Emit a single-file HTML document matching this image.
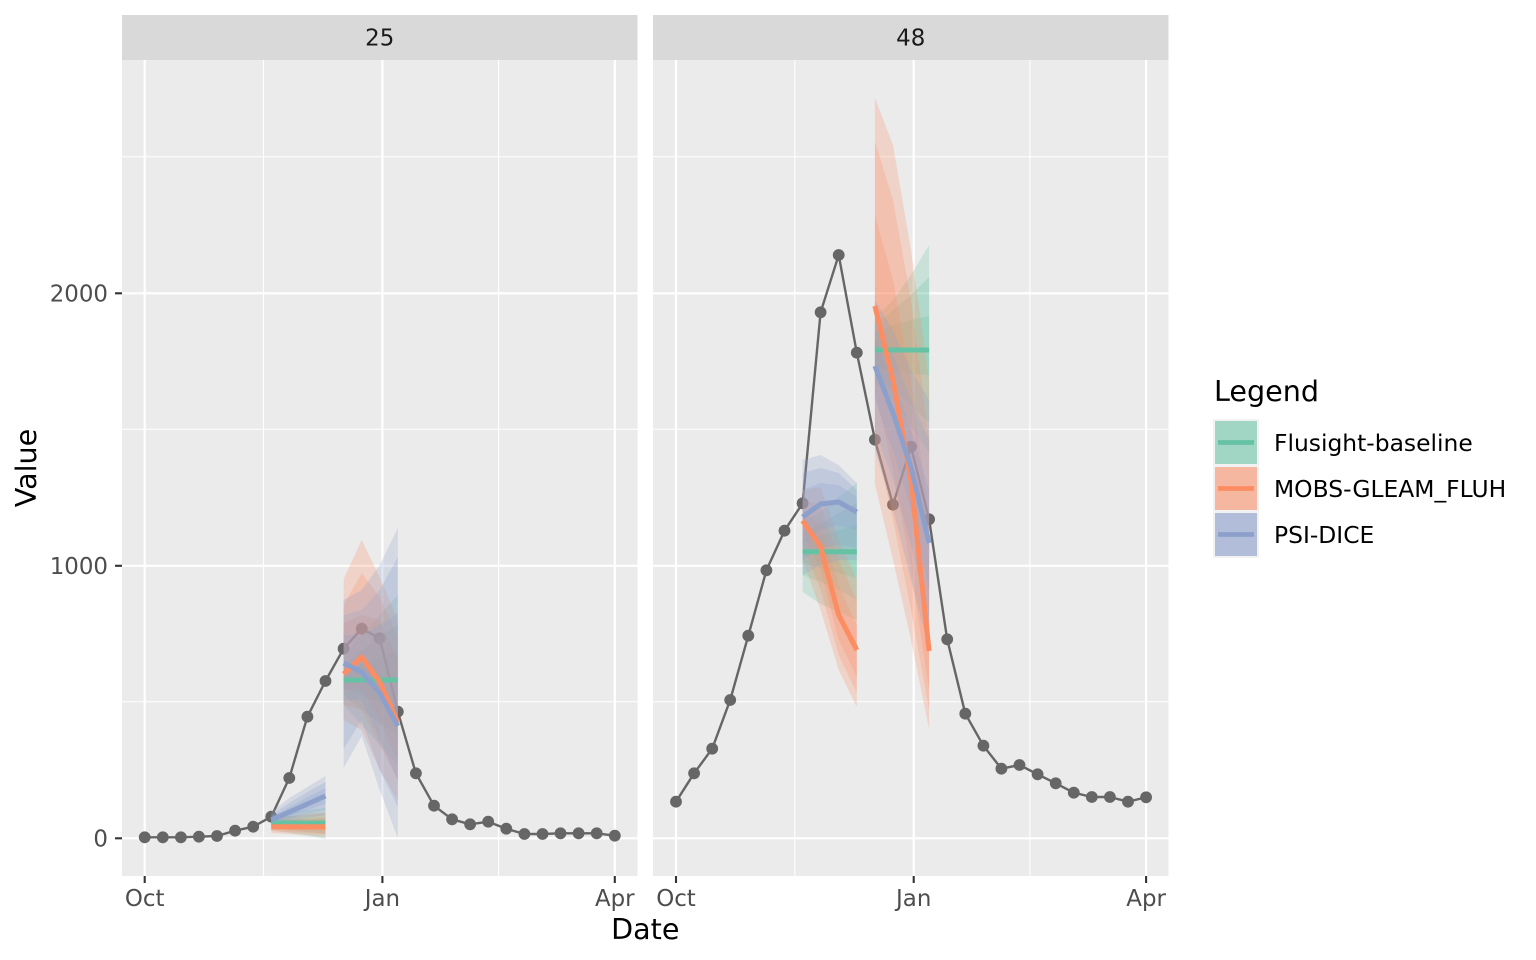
<!DOCTYPE html>
<html>
<head>
<meta charset="utf-8">
<style>
  html,body{margin:0;padding:0;background:#ffffff;}
  svg{display:block;}
  text{font-family:"DejaVu Sans","Liberation Sans",sans-serif;}
</style>
</head>
<body>
<svg width="1536" height="960" viewBox="0 0 1536 960" xmlns="http://www.w3.org/2000/svg">
  <rect x="0" y="0" width="1536" height="960" fill="#ffffff"/>
  <defs>
    <clipPath id="c1"><rect x="122" y="60" width="515.5" height="816"/></clipPath>
    <clipPath id="c2"><rect x="653" y="60" width="515.5" height="816"/></clipPath>
  </defs>

  <!-- strips -->
  <rect x="122" y="15" width="515.5" height="45" fill="#d9d9d9"/>
  <rect x="653" y="15" width="515.5" height="45" fill="#d9d9d9"/>
  <text x="379.7" y="45.5" font-size="22.9" fill="#1a1a1a" text-anchor="middle">25</text>
  <text x="910.7" y="45.5" font-size="22.9" fill="#1a1a1a" text-anchor="middle">48</text>

  <!-- panel 1 -->
  <rect x="122" y="60" width="515.5" height="816" fill="#ebebeb"/>
  <g clip-path="url(#c1)">
    <g stroke="#ffffff" stroke-width="1.1" fill="none">
      <line x1="122" y1="701.75" x2="637.5" y2="701.75"/>
      <line x1="122" y1="429.25" x2="637.5" y2="429.25"/>
      <line x1="122" y1="156.75" x2="637.5" y2="156.75"/>
      <line x1="263.5" y1="60" x2="263.5" y2="876"/>
      <line x1="498.6" y1="60" x2="498.6" y2="876"/>
    </g>
    <g stroke="#ffffff" stroke-width="2.2" fill="none">
      <line x1="122" y1="838.3" x2="637.5" y2="838.3"/>
      <line x1="122" y1="565.8" x2="637.5" y2="565.8"/>
      <line x1="122" y1="293.3" x2="637.5" y2="293.3"/>
      <line x1="144.7" y1="60" x2="144.7" y2="876"/>
      <line x1="382.4" y1="60" x2="382.4" y2="876"/>
      <line x1="614.8" y1="60" x2="614.8" y2="876"/>
    </g>
    <!-- observed -->
    <polyline fill="none" stroke="#666666" stroke-width="2.4" stroke-linejoin="round"
      points="144.7,837.3 162.8,837.3 180.9,837.3 198.9,836.7 217,836 235.1,830.7 253.2,826.7 271.3,816.7 289.3,778 307.4,716.7 325.5,681 343.6,648.7 361.7,628.7 379.7,638.3 397.8,711.7 415.9,773.3 434,805.7 452.1,819.3 470.1,824.3 488.2,821.7 506.3,828.7 524.4,834 542.5,834 560.5,833.3 578.6,833.3 596.7,833.3 614.8,835.7"/>
    <g fill="#666666">
      <circle cx="144.7" cy="837.3" r="5.9"/><circle cx="162.8" cy="837.3" r="5.9"/><circle cx="180.9" cy="837.3" r="5.9"/>
      <circle cx="198.9" cy="836.7" r="5.9"/><circle cx="217" cy="836" r="5.9"/><circle cx="235.1" cy="830.7" r="5.9"/>
      <circle cx="253.2" cy="826.7" r="5.9"/><circle cx="271.3" cy="816.7" r="5.9"/><circle cx="289.3" cy="778" r="5.9"/>
      <circle cx="307.4" cy="716.7" r="5.9"/><circle cx="325.5" cy="681" r="5.9"/><circle cx="343.6" cy="648.7" r="5.9"/>
      <circle cx="361.7" cy="628.7" r="5.9"/><circle cx="379.7" cy="638.3" r="5.9"/><circle cx="397.8" cy="711.7" r="5.9"/>
      <circle cx="415.9" cy="773.3" r="5.9"/><circle cx="434" cy="805.7" r="5.9"/><circle cx="452.1" cy="819.3" r="5.9"/>
      <circle cx="470.1" cy="824.3" r="5.9"/><circle cx="488.2" cy="821.7" r="5.9"/><circle cx="506.3" cy="828.7" r="5.9"/>
      <circle cx="524.4" cy="834" r="5.9"/><circle cx="542.5" cy="834" r="5.9"/><circle cx="560.5" cy="833.3" r="5.9"/>
      <circle cx="578.6" cy="833.3" r="5.9"/><circle cx="596.7" cy="833.3" r="5.9"/><circle cx="614.8" cy="835.7" r="5.9"/>
    </g>
    <!-- block 1 ribbons -->
    <g fill="#66c2a5" fill-opacity="0.25">
      <polygon points="271.3,815 289.3,812 307.4,810 325.5,808 325.5,839 307.4,836 289.3,833 271.3,830"/>
      <polygon points="271.3,818 289.3,816 307.4,815 325.5,813 325.5,834 307.4,832 289.3,830 271.3,828"/>
      <polygon points="271.3,820 289.3,819 307.4,819 325.5,818 325.5,829 307.4,828 289.3,827 271.3,826"/>
    </g>
    <g fill="#fc8d62" fill-opacity="0.25">
      <polygon points="271.3,818 289.3,816 307.4,814 325.5,812 325.5,837 307.4,835 289.3,834 271.3,833"/>
      <polygon points="271.3,821 289.3,820 307.4,819 325.5,818 325.5,834 307.4,833 289.3,832 271.3,831"/>
      <polygon points="271.3,823 289.3,823 307.4,822 325.5,822 325.5,831 307.4,830 289.3,830 271.3,829"/>
    </g>
    <g fill="#8da0cb" fill-opacity="0.25">
      <polygon points="271.3,812 289.3,798 307.4,787 325.5,776 325.5,815 307.4,818 289.3,822 271.3,826"/>
      <polygon points="271.3,815 289.3,803 307.4,792 325.5,782 325.5,810 307.4,814 289.3,819 271.3,824"/>
      <polygon points="271.3,817 289.3,807 307.4,797 325.5,788 325.5,804 307.4,810 289.3,816 271.3,822"/>
    </g>
    <!-- block 2 ribbons -->
    <g fill="#66c2a5" fill-opacity="0.25">
      <polygon points="343.6,655 361.7,635 379.7,615 397.8,595 397.8,765 379.7,745 361.7,725 343.6,705"/>
      <polygon points="343.6,665 361.7,650 379.7,637 397.8,625 397.8,735 379.7,723 361.7,710 343.6,695"/>
      <polygon points="343.6,672 361.7,664 379.7,657 397.8,650 397.8,710 379.7,703 361.7,696 343.6,688"/>
    </g>
    <g fill="#fc8d62" fill-opacity="0.25">
      <polygon points="343.6,579 361.7,540 379.7,577 397.8,620 397.8,800 379.7,770 361.7,730 343.6,720"/>
      <polygon points="343.6,605 361.7,573 379.7,597 397.8,637 397.8,780 379.7,745 361.7,710 343.6,705"/>
      <polygon points="343.6,623 361.7,615 379.7,620 397.8,660 397.8,760 379.7,720 361.7,690 343.6,690"/>
    </g>
    <g fill="#8da0cb" fill-opacity="0.25">
      <polygon points="343.6,600 361.7,590 379.7,565 397.8,528 397.8,838 379.7,790 361.7,736 343.6,768"/>
      <polygon points="343.6,615 361.7,610 379.7,590 397.8,557 397.8,807 379.7,770 361.7,720 343.6,749"/>
      <polygon points="343.6,635 361.7,635 379.7,625 397.8,613 397.8,780 379.7,740 361.7,700 343.6,700"/>
    </g>
    <!-- medians -->
    <g fill="none" stroke-width="5" stroke-linejoin="round">
      <polyline stroke="#66c2a5" points="271.3,823 325.5,823"/>
      <polyline stroke="#fc8d62" points="271.3,826.7 325.5,826.7"/>
      <polyline stroke="#8da0cb" points="271.3,820 289.3,812 307.4,804 325.5,796"/>
      <polyline stroke="#66c2a5" points="343.6,680 397.8,680"/>
      <polyline stroke="#fc8d62" points="343.6,674 361.7,657 379.7,682 397.8,722"/>
      <polyline stroke="#8da0cb" points="343.6,663 361.7,672 379.7,693 397.8,726"/>
    </g>
  </g>

  <!-- panel 2 -->
  <rect x="653" y="60" width="515.5" height="816" fill="#ebebeb"/>
  <g clip-path="url(#c2)">
    <g stroke="#ffffff" stroke-width="1.1" fill="none">
      <line x1="653" y1="701.75" x2="1168.5" y2="701.75"/>
      <line x1="653" y1="429.25" x2="1168.5" y2="429.25"/>
      <line x1="653" y1="156.75" x2="1168.5" y2="156.75"/>
      <line x1="794.8" y1="60" x2="794.8" y2="876"/>
      <line x1="1029.9" y1="60" x2="1029.9" y2="876"/>
    </g>
    <g stroke="#ffffff" stroke-width="2.2" fill="none">
      <line x1="653" y1="838.3" x2="1168.5" y2="838.3"/>
      <line x1="653" y1="565.8" x2="1168.5" y2="565.8"/>
      <line x1="653" y1="293.3" x2="1168.5" y2="293.3"/>
      <line x1="676" y1="60" x2="676" y2="876"/>
      <line x1="913.7" y1="60" x2="913.7" y2="876"/>
      <line x1="1146.1" y1="60" x2="1146.1" y2="876"/>
    </g>
    <polyline fill="none" stroke="#666666" stroke-width="2.4" stroke-linejoin="round"
      points="676,801.7 694.1,773.3 712.2,748.7 730.2,700 748.3,635.7 766.4,570.3 784.5,530.7 802.6,503.3 820.6,312.3 838.7,255 856.8,352.7 874.9,439.7 893,504.7 911,446.7 929.1,519.3 947.2,639.3 965.3,713.7 983.4,745.7 1001.4,768.7 1019.5,765 1037.6,774.3 1055.7,783.3 1073.8,792.7 1091.8,797 1109.9,797 1128,801.7 1146.1,797.3"/>
    <g fill="#666666">
      <circle cx="676" cy="801.7" r="5.9"/><circle cx="694.1" cy="773.3" r="5.9"/><circle cx="712.2" cy="748.7" r="5.9"/>
      <circle cx="730.2" cy="700" r="5.9"/><circle cx="748.3" cy="635.7" r="5.9"/><circle cx="766.4" cy="570.3" r="5.9"/>
      <circle cx="784.5" cy="530.7" r="5.9"/><circle cx="802.6" cy="503.3" r="5.9"/><circle cx="820.6" cy="312.3" r="5.9"/>
      <circle cx="838.7" cy="255" r="5.9"/><circle cx="856.8" cy="352.7" r="5.9"/><circle cx="874.9" cy="439.7" r="5.9"/>
      <circle cx="893" cy="504.7" r="5.9"/><circle cx="911" cy="446.7" r="5.9"/><circle cx="929.1" cy="519.3" r="5.9"/>
      <circle cx="947.2" cy="639.3" r="5.9"/><circle cx="965.3" cy="713.7" r="5.9"/><circle cx="983.4" cy="745.7" r="5.9"/>
      <circle cx="1001.4" cy="768.7" r="5.9"/><circle cx="1019.5" cy="765" r="5.9"/><circle cx="1037.6" cy="774.3" r="5.9"/>
      <circle cx="1055.7" cy="783.3" r="5.9"/><circle cx="1073.8" cy="792.7" r="5.9"/><circle cx="1091.8" cy="797" r="5.9"/>
      <circle cx="1109.9" cy="797" r="5.9"/><circle cx="1128" cy="801.7" r="5.9"/><circle cx="1146.1" cy="797.3" r="5.9"/>
    </g>
    <!-- block 1 ribbons -->
    <g fill="#66c2a5" fill-opacity="0.25">
      <polygon points="802.6,523 820.6,512 838.7,497 856.8,483 856.8,620 838.7,612 820.6,604 802.6,592"/>
      <polygon points="802.6,532 820.6,524 838.7,513 856.8,503 856.8,600 838.7,590 820.6,582 802.6,575"/>
      <polygon points="802.6,540 820.6,535 838.7,530 856.8,525 856.8,578 838.7,573 820.6,568 802.6,563"/>
    </g>
    <g fill="#fc8d62" fill-opacity="0.25">
      <polygon points="802.6,490 820.6,487 838.7,540 856.8,580 856.8,707 838.7,670 820.6,610 802.6,560"/>
      <polygon points="802.6,500 820.6,505 838.7,560 856.8,600 856.8,693 838.7,655 820.6,590 802.6,545"/>
      <polygon points="802.6,510 820.6,525 838.7,585 856.8,625 856.8,677 838.7,640 820.6,570 802.6,533"/>
    </g>
    <g fill="#8da0cb" fill-opacity="0.25">
      <polygon points="802.6,460 820.6,455 838.7,465 856.8,483 856.8,560 838.7,560 820.6,565 802.6,575"/>
      <polygon points="802.6,473 820.6,468 838.7,473 856.8,490 856.8,548 838.7,545 820.6,548 802.6,560"/>
      <polygon points="802.6,490 820.6,483 838.7,485 856.8,497 856.8,530 838.7,525 820.6,530 802.6,545"/>
    </g>
    <!-- block 2 ribbons -->
    <g fill="#66c2a5" fill-opacity="0.25">
      <polygon points="874.9,318 893,300 911,275 929.1,245 929.1,453 911,425 893,400 874.9,383"/>
      <polygon points="874.9,325 893,310 911,295 929.1,277 929.1,423 911,405 893,390 874.9,375"/>
      <polygon points="874.9,333 893,325 911,320 929.1,316 929.1,375 911,374 893,372 874.9,367"/>
    </g>
    <g fill="#fc8d62" fill-opacity="0.25">
      <polygon points="874.9,98 893,145 911,250 929.1,380 929.1,729 911,640 893,560 874.9,484"/>
      <polygon points="874.9,141 893,200 911,300 929.1,440 929.1,710 911,610 893,520 874.9,440"/>
      <polygon points="874.9,215 893,280 911,380 929.1,520 929.1,690 911,570 893,470 874.9,390"/>
    </g>
    <g fill="#8da0cb" fill-opacity="0.25">
      <polygon points="874.9,300 893,330 911,370 929.1,400 929.1,650 911,580 893,510 874.9,450"/>
      <polygon points="874.9,320 893,355 911,400 929.1,440 929.1,620 911,545 893,480 874.9,430"/>
      <polygon points="874.9,340 893,380 911,430 929.1,490 929.1,590 911,510 893,450 874.9,400"/>
    </g>
    <g fill="none" stroke-width="5" stroke-linejoin="round">
      <polyline stroke="#66c2a5" points="802.6,551.7 856.8,551.7"/>
      <polyline stroke="#fc8d62" points="802.6,520.7 820.6,546.7 838.7,615 856.8,650"/>
      <polyline stroke="#8da0cb" points="802.6,517 820.6,504 838.7,502 856.8,512"/>
      <polyline stroke="#66c2a5" points="874.9,350 929.1,350"/>
      <polyline stroke="#fc8d62" points="874.9,306 893,380 911,480 929.1,651"/>
      <polyline stroke="#8da0cb" points="874.9,366 893,413 911,467 929.1,543"/>
    </g>
  </g>

  <!-- axis ticks -->
  <g stroke="#333333" stroke-width="2.1">
    <line x1="115" y1="838.3" x2="122" y2="838.3"/>
    <line x1="115" y1="565.8" x2="122" y2="565.8"/>
    <line x1="115" y1="293.3" x2="122" y2="293.3"/>
    <line x1="144.7" y1="876" x2="144.7" y2="883"/>
    <line x1="382.4" y1="876" x2="382.4" y2="883"/>
    <line x1="614.8" y1="876" x2="614.8" y2="883"/>
    <line x1="676" y1="876" x2="676" y2="883"/>
    <line x1="913.7" y1="876" x2="913.7" y2="883"/>
    <line x1="1146.1" y1="876" x2="1146.1" y2="883"/>
  </g>
  <g font-size="22.9" fill="#4d4d4d">
    <text x="108" y="846.6" text-anchor="end">0</text>
    <text x="108" y="574.1" text-anchor="end">1000</text>
    <text x="108" y="301.6" text-anchor="end">2000</text>
    <text x="144.7" y="906" text-anchor="middle">Oct</text>
    <text x="382.4" y="906" text-anchor="middle">Jan</text>
    <text x="614.8" y="906" text-anchor="middle">Apr</text>
    <text x="676" y="906" text-anchor="middle">Oct</text>
    <text x="913.7" y="906" text-anchor="middle">Jan</text>
    <text x="1146.1" y="906" text-anchor="middle">Apr</text>
  </g>
  <text x="645.3" y="939" font-size="28.6" fill="#000000" text-anchor="middle">Date</text>
  <text x="0" y="0" font-size="28.6" fill="#000000" text-anchor="middle" transform="translate(36,468) rotate(-90)">Value</text>

  <!-- legend -->
  <text x="1214" y="401" font-size="28.6" fill="#000000">Legend</text>
  <rect x="1213" y="419" width="46" height="139" fill="#f2f2f2"/>
  <rect x="1215" y="421" width="42" height="43" fill="#a0d6c3"/>
  <rect x="1215" y="467" width="42" height="43" fill="#f5b7a0"/>
  <rect x="1215" y="513" width="42" height="43" fill="#b1bdd9"/>
  <g stroke-width="4.7">
    <line x1="1218" y1="442.5" x2="1254" y2="442.5" stroke="#66c2a5"/>
    <line x1="1218" y1="488.5" x2="1254" y2="488.5" stroke="#fc8d62"/>
    <line x1="1218" y1="534.5" x2="1254" y2="534.5" stroke="#8da0cb"/>
  </g>
  <g font-size="23.4" fill="#000000">
    <text x="1274" y="451">Flusight-baseline</text>
    <text x="1274" y="497">MOBS-GLEAM_FLUH</text>
    <text x="1274" y="543">PSI-DICE</text>
  </g>
</svg>
</body>
</html>
